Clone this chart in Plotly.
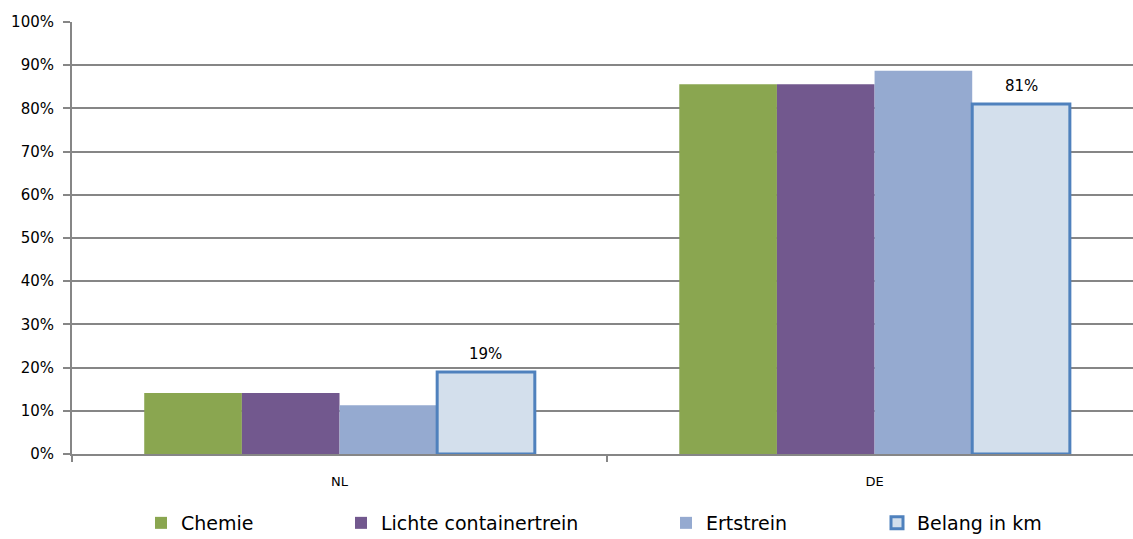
import plotly.graph_objects as go

# Categories and series values (fractions)
categories = ["NL", "DE"]
chemie = [0.141, 0.856]
lichte_containertrein = [0.141, 0.856]
ertstrein = [0.113, 0.887]
belang_in_km = [0.19, 0.81]

series_names = ["Chemie", "Lichte containertrein", "Ertstrein", "Belang in km"]
y_ticks = [i / 10 for i in range(11)]
y_tick_labels = [f"{i * 10}%" for i in range(11)]

FONT = "DejaVu Sans, sans-serif"
GRID = "#868686"
BARGAP = 0.27

fig = go.Figure()

fills = ["#8AA650", "#72588E", "#95AAD0", "#D3DFEC"]
values = [chemie, lichte_containertrein, ertstrein, belang_in_km]
legend_ids = ["legend", "legend2", "legend3", "legend4"]

for name, vals, col, lg in zip(series_names, values, fills, legend_ids):
    is_belang = name == "Belang in km"
    fig.add_trace(go.Bar(
        name=name,
        x=categories,
        y=vals,
        showlegend=True,
        marker=dict(
            color=col,
            line=dict(color="#4F81BD" if is_belang else col, width=3 if is_belang else 0),
        ),
        legend=lg,
    ))

# Value labels above the "Belang in km" bars (last bar of each group)
n_series = len(series_names)
bar_w = (1 - BARGAP) / n_series
offset = -(1 - BARGAP) / 2 + (n_series - 0.5) * bar_w
for i, v in enumerate(belang_in_km):
    fig.add_annotation(
        x=i + offset, y=v,
        text=f"{round(v * 100)}%",
        showarrow=False,
        yanchor="bottom",
        yshift=7,
        font=dict(family=FONT, size=15, color="#000000"),
    )

# Legend entries laid out individually along the bottom
symbol_centers = [161, 361, 686, 897]
W, H = 1133, 539
legend_layout = {}
for lg, sc in zip(legend_ids, symbol_centers):
    legend_layout[lg] = dict(
        xref="container",
        yref="container",
        x=(sc - 20) / W,
        y=(H - 523) / H,
        xanchor="left",
        yanchor="middle",
        orientation="h",
        bgcolor="rgba(0,0,0,0)",
        font=dict(family=FONT, size=19, color="#000000"),
        itemwidth=30,
        visible=True,
    )

fig.update_layout(
    width=W,
    height=H,
    margin=dict(l=72, r=0, t=22, b=85),
    paper_bgcolor="white",
    plot_bgcolor="white",
    barmode="group",
    bargap=BARGAP,
    bargroupgap=0,
    showlegend=True,
    font=dict(family=FONT, color="#000000"),
    **legend_layout,
)

fig.update_yaxes(
    range=[0, 1],
    tickvals=y_ticks,
    ticktext=y_tick_labels,
    tickfont=dict(family=FONT, size=15, color="#000000"),
    ticklabelstandoff=6,
    showgrid=True,
    gridcolor=GRID,
    gridwidth=2,
    showline=True,
    linecolor=GRID,
    linewidth=2,
    ticks="outside",
    ticklen=7,
    tickcolor=GRID,
    tickwidth=2,
    zeroline=False,
)

fig.update_xaxes(
    range=[-0.5, 1.483],
    tickfont=dict(family=FONT, size=13, color="#000000"),
    ticklabelstandoff=14,
    showline=True,
    linecolor=GRID,
    linewidth=2,
    ticks="outside",
    tickson="boundaries",
    ticklen=6,
    tickcolor=GRID,
    tickwidth=2,
    showgrid=False,
)

fig.write_html("out.html")
